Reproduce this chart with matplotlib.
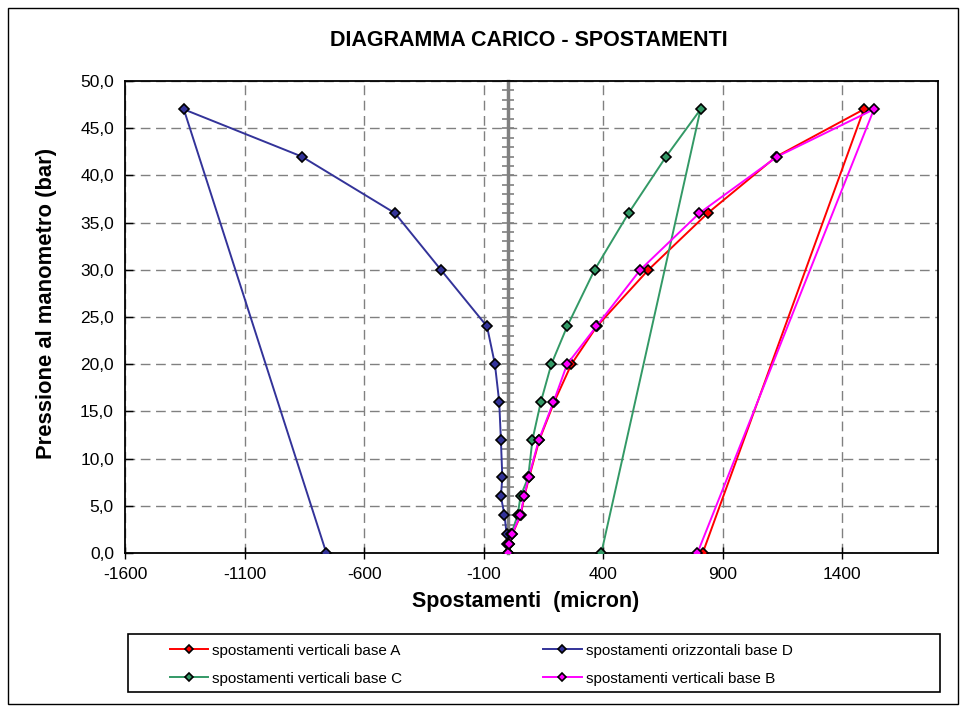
import matplotlib
matplotlib.use("Agg")
import matplotlib.pyplot as plt
from matplotlib.ticker import FuncFormatter, MultipleLocator
from matplotlib.patches import Rectangle

plt.rcParams['font.family'] = ['Liberation Sans', 'DejaVu Sans']
plt.rcParams['axes.unicode_minus'] = False

# pressione al manometro (bar) - carico e scarico
pressione = [0, 1, 2, 4, 6, 8, 12, 16, 20, 24, 30, 36, 42, 47, 0]

# spostamenti (micron)
base_A = [0, 6, 20, 55, 70, 90, 133, 195, 267, 373, 589, 837, 1124, 1490, 816]
base_D = [0, -2, -4, -13, -28, -22, -28, -35, -53, -86, -279, -471, -861, -1354, -758]
base_C = [0, 4, 15, 42, 54, 86, 104, 139, 183, 249, 364, 506, 663, 807, 392]
base_B = [0, 5, 19, 53, 69, 88, 131, 192, 249, 371, 555, 802, 1128, 1532, 794]

x_ticks = [-1600, -1100, -600, -100, 400, 900, 1400]

W, H = 962, 708
fig = plt.figure(figsize=(W / 100, H / 100), dpi=100)

# outer chart border
fig.patches.append(Rectangle((8 / W, 1 - 704 / H), 950 / W, 696 / H, transform=fig.transFigure,
                             fill=False, edgecolor='black', linewidth=1.0))

ax = fig.add_axes([125 / W, 1 - 553 / H, (938 - 125) / W, (553 - 81) / H])

series = [
    (base_A, '#FF0000', 'spostamenti verticali base A'),
    (base_D, '#333399', 'spostamenti orizzontali base D'),
    (base_C, '#339966', 'spostamenti verticali base C'),
    (base_B, '#FF00FF', 'spostamenti verticali base B'),
]
handles = {}
for vals, col, lab in series:
    h, = ax.plot(vals, pressione, color=col, lw=1.4, marker='D', ms=5,
                 mfc=col, mec='black', mew=1.2, label=lab, zorder=3)
    handles[lab] = h

ax.set_xlim(-1600, 1800)
ax.set_ylim(0, 50)
ax.set_xticks(x_ticks)
ax.yaxis.set_major_locator(MultipleLocator(5))
ax.yaxis.set_major_formatter(FuncFormatter(lambda v, p: f"{v:.1f}".replace('.', ',')))
ax.tick_params(axis='x', direction='inout', length=8, width=1, labelsize=12.5, pad=6)
ax.tick_params(axis='y', direction='in', length=6, width=1, labelsize=12.5, pad=8)
ax.grid(True, color='#808080', linestyle=(0, (7, 4)), linewidth=1.0)
for sp in ax.spines.values():
    sp.set_linewidth(1.3)

# y axis crossing at x = 0 (grey, with minor ticks)
ax0 = ax.twinx()
ax0.set_ylim(0, 50)
ax0.yaxis.set_ticks_position('left')
ax0.spines['left'].set_position(('data', 0))
ax0.spines['left'].set_color('#808080')
ax0.spines['left'].set_linewidth(2.5)
for s in ['right', 'top', 'bottom']:
    ax0.spines[s].set_visible(False)
ax0.yaxis.set_major_locator(MultipleLocator(5))
ax0.yaxis.set_minor_locator(MultipleLocator(1))
ax0.tick_params(axis='y', which='both', direction='inout', length=9, width=1.2,
                color='#808080', labelleft=False, labelright=False)
ax0.set_zorder(ax.get_zorder() - 1)
ax.patch.set_visible(False)

fig.text(529 / W, 1 - 40 / H, 'DIAGRAMMA CARICO - SPOSTAMENTI', ha='center', va='center',
         fontsize=15.5, fontweight='bold')
fig.text(526 / W, 1 - 601 / H, 'Spostamenti  (micron)', ha='center', va='center',
         fontsize=15.5, fontweight='bold')
fig.text(47 / W, 1 - 303 / H, 'Pressione al manometro (bar)', ha='center', va='center',
         rotation=90, fontsize=15.8, fontweight='bold')

# legend box
fig.patches.append(Rectangle((128 / W, 1 - 692 / H), (940 - 128) / W, (692 - 634) / H,
                             transform=fig.transFigure, fill=False, edgecolor='black', linewidth=1.2))
order = ['spostamenti verticali base A', 'spostamenti verticali base C',
         'spostamenti orizzontali base D', 'spostamenti verticali base B']
leg = fig.legend([handles[k] for k in order], order, ncol=2, loc='upper left',
                 bbox_to_anchor=(156 / W, 1 - 630 / H), frameon=False, fontsize=11,
                 handlelength=2.5, handletextpad=0.26, columnspacing=9.25, labelspacing=0.9)
for lh in leg.legend_handles:
    lh.set_markersize(4)

fig.savefig('out.png', dpi=100)
